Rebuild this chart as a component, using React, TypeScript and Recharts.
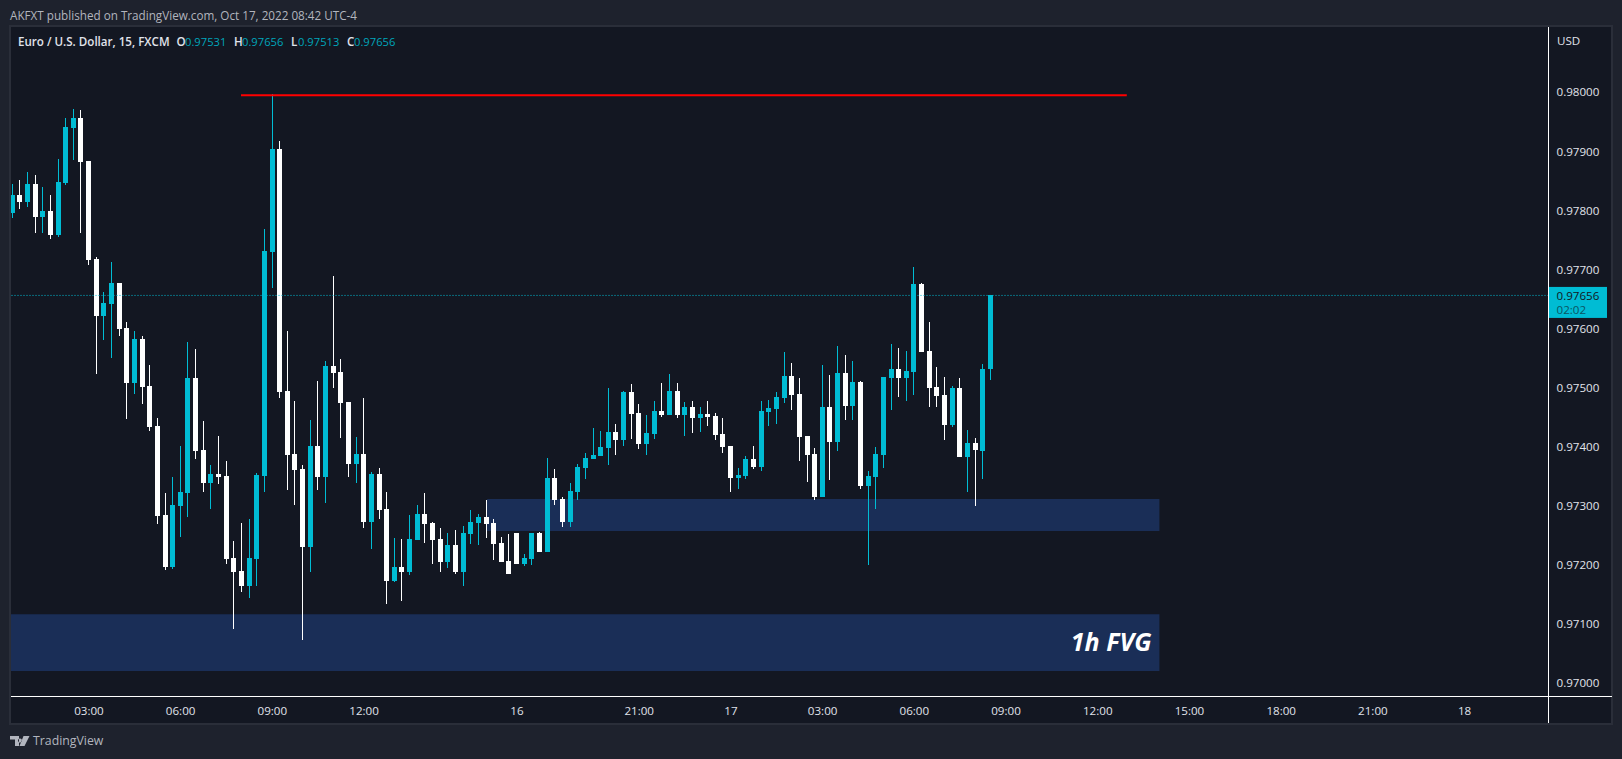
import React from 'react';
import { ComposedChart, Bar, XAxis, YAxis, ReferenceArea, ReferenceLine } from 'recharts';

const opens = [
  0.97796, 0.97826, 0.97814, 0.97845, 0.97789, 0.97799, 0.97758, 0.97846, 0.9794, 0.97957,
  0.97884, 0.97718, 0.97621, 0.97641, 0.97677, 0.97601, 0.97508, 0.97582, 0.97502, 0.97435,
  0.97284, 0.97196, 0.97299, 0.97321, 0.97516, 0.97394, 0.97338, 0.97353, 0.9735, 0.97211,
  0.97189, 0.97164, 0.9721, 0.9735, 0.9773, 0.97904, 0.97494, 0.97387, 0.97362, 0.9723,
  0.97401, 0.97348, 0.97536, 0.97526, 0.97475, 0.9737, 0.97387, 0.97272, 0.97353, 0.97294,
  0.97172, 0.97196, 0.97187, 0.97242, 0.97286, 0.9727, 0.97243, 0.97204, 0.97233, 0.97187,
  0.97252, 0.9727, 0.97281, 0.9727, 0.97237, 0.97206, 0.97254, 0.97201, 0.9721, 0.97254,
  0.97221, 0.97347, 0.97311, 0.97272, 0.97323, 0.97364, 0.97379, 0.97384, 0.97398, 0.97425,
  0.97411, 0.97492, 0.97457, 0.97404, 0.97421, 0.9746, 0.97453, 0.97494, 0.97453, 0.97467,
  0.97448, 0.97455, 0.97452, 0.97421, 0.97401, 0.97347, 0.9735, 0.97379, 0.97365, 0.97458,
  0.97464, 0.97482, 0.97519, 0.97489, 0.97418, 0.97387, 0.97315, 0.97467, 0.97408, 0.97525,
  0.97469, 0.97509, 0.97333, 0.97348, 0.97386, 0.97516, 0.97531, 0.97516, 0.97526, 0.97675,
  0.97562, 0.97501, 0.97487, 0.97436, 0.97499, 0.97382, 0.97406, 0.97392, 0.97531,
];
const highs = [
  0.97845, 0.97851, 0.97865, 0.9786, 0.9784, 0.97826, 0.97887, 0.97957, 0.97972, 0.9797,
  0.97884, 0.97721, 0.97662, 0.97713, 0.97677, 0.97611, 0.97596, 0.97587, 0.97538, 0.97448,
  0.97321, 0.97348, 0.97401, 0.97577, 0.97565, 0.97443, 0.97369, 0.97418, 0.97376, 0.9724,
  0.9727, 0.97277, 0.97355, 0.97769, 0.97997, 0.97918, 0.97596, 0.97477, 0.97369, 0.97445,
  0.97511, 0.97545, 0.97689, 0.97548, 0.97475, 0.97416, 0.97482, 0.97357, 0.97364, 0.97323,
  0.97245, 0.97243, 0.97284, 0.97301, 0.97321, 0.97272, 0.97262, 0.97254, 0.97259, 0.97265,
  0.97293, 0.97286, 0.97309, 0.97277, 0.97247, 0.97252, 0.97254, 0.97218, 0.97254, 0.97255,
  0.97381, 0.97362, 0.97315, 0.97338, 0.9737, 0.97389, 0.97431, 0.97426, 0.97499, 0.97438,
  0.97494, 0.97506, 0.97472, 0.97453, 0.97477, 0.97508, 0.97523, 0.97508, 0.97475, 0.97477,
  0.97467, 0.97477, 0.97457, 0.97448, 0.97401, 0.97364, 0.97384, 0.97401, 0.97477, 0.97479,
  0.97492, 0.9756, 0.97541, 0.97516, 0.97418, 0.97398, 0.97538, 0.97521, 0.9757, 0.97555,
  0.97545, 0.97511, 0.97359, 0.97399, 0.97518, 0.97574, 0.97567, 0.97562, 0.97704, 0.97677,
  0.97611, 0.97535, 0.97518, 0.97502, 0.97516, 0.97428, 0.97414, 0.9754, 0.97656,
];
const lows = [
  0.97787, 0.97802, 0.97806, 0.97762, 0.97762, 0.97752, 0.97755, 0.97843, 0.97885, 0.97762,
  0.97708, 0.97523, 0.9758, 0.9755, 0.97587, 0.97447, 0.97489, 0.97472, 0.97426, 0.97269,
  0.97191, 0.97193, 0.97247, 0.97281, 0.97379, 0.97323, 0.97294, 0.97337, 0.97201, 0.97091,
  0.97154, 0.97143, 0.97164, 0.97323, 0.97669, 0.97482, 0.97326, 0.97301, 0.97072, 0.97187,
  0.97326, 0.97304, 0.97499, 0.97414, 0.97348, 0.97338, 0.97262, 0.97226, 0.97277, 0.97133,
  0.97171, 0.97138, 0.97182, 0.97242, 0.97237, 0.97201, 0.97187, 0.97194, 0.97184, 0.97164,
  0.97235, 0.97233, 0.97245, 0.97208, 0.97204, 0.97184, 0.97201, 0.97198, 0.97199, 0.97221,
  0.97221, 0.97301, 0.97264, 0.97264, 0.97309, 0.97345, 0.97379, 0.97384, 0.97369, 0.97386,
  0.97401, 0.97413, 0.97396, 0.97386, 0.97413, 0.9745, 0.97453, 0.97448, 0.97418, 0.97423,
  0.97425, 0.97435, 0.97411, 0.97389, 0.97323, 0.97328, 0.97345, 0.97362, 0.97359, 0.97435,
  0.97438, 0.97474, 0.97462, 0.97376, 0.9734, 0.97309, 0.97315, 0.97343, 0.97392, 0.97445,
  0.97445, 0.97328, 0.97199, 0.97294, 0.97364, 0.97462, 0.97484, 0.97477, 0.97487, 0.9756,
  0.97467, 0.97467, 0.97411, 0.97433, 0.97382, 0.97323, 0.97299, 0.97345, 0.97513,
];
const closes = [
  0.97826, 0.97814, 0.97845, 0.97789, 0.97799, 0.97758, 0.97848, 0.97941, 0.97957, 0.97882,
  0.97716, 0.97621, 0.97643, 0.97677, 0.97599, 0.97508, 0.97582, 0.97501, 0.97433, 0.97282,
  0.97196, 0.97301, 0.97323, 0.97516, 0.97392, 0.97338, 0.97353, 0.97348, 0.9721, 0.97187,
  0.97164, 0.97211, 0.97352, 0.97731, 0.97904, 0.97492, 0.97386, 0.9736, 0.9723, 0.97401,
  0.97348, 0.97536, 0.97525, 0.97474, 0.9737, 0.97387, 0.97272, 0.97353, 0.97293, 0.97172,
  0.97196, 0.97187, 0.97243, 0.97286, 0.97269, 0.97242, 0.97204, 0.97233, 0.97187, 0.97254,
  0.97272, 0.97281, 0.97269, 0.97235, 0.97204, 0.97184, 0.97201, 0.97211, 0.97254, 0.97221,
  0.97347, 0.97309, 0.97272, 0.97325, 0.97365, 0.97381, 0.97386, 0.97399, 0.97425, 0.97411,
  0.97492, 0.97455, 0.97404, 0.97423, 0.9746, 0.97453, 0.97494, 0.97453, 0.97467, 0.97448,
  0.97455, 0.9745, 0.9742, 0.97399, 0.97347, 0.97352, 0.97379, 0.97365, 0.9746, 0.97465,
  0.97484, 0.97519, 0.97487, 0.97416, 0.97386, 0.97315, 0.97467, 0.97408, 0.97525, 0.97469,
  0.97509, 0.97333, 0.9735, 0.97387, 0.97518, 0.97531, 0.97516, 0.97528, 0.97675, 0.9756,
  0.97499, 0.97486, 0.97436, 0.97499, 0.97382, 0.97406, 0.97394, 0.97531, 0.97656,
];

const priceTicks = [0.98, 0.979, 0.978, 0.977, 0.976, 0.975, 0.974, 0.973, 0.972, 0.971, 0.97];
const timeTickBars = [10, 22, 34, 46, 66, 82, 94, 106, 118, 130, 142, 154, 166, 178, 190];
const timeTickLabels = ['03:00', '06:00', '09:00', '12:00', '16', '21:00', '17', '03:00', '06:00', '09:00', '12:00', '15:00', '18:00', '21:00', '18'];

const lastPrice = 0.97656;
const resistance = 0.97995;
const upperZone = [0.97257, 0.97311];
const lowerZone = [0.9702, 0.97116];

const TEAL = '#00bcd4';
const WHITE = '#ffffff';
const FONT = '"Open Sans", sans-serif';

const candles = opens.map((open, i) => ({
  i,
  open,
  high: highs[i],
  low: lows[i],
  close: closes[i],
  range: [lows[i], highs[i]],
}));

// wick + body, pixel-per-price worked out from the bar the scale gave us
const Candle = (props: any) => {
  const { x, y, width, height, payload } = props;
  const top = Math.min(y, y + height);
  const h = Math.abs(height);
  const ratio = h / (payload.high - payload.low);
  const color = payload.close >= payload.open ? TEAL : WHITE;
  const cx = x + width / 2;
  const bodyTop = top + (payload.high - Math.max(payload.open, payload.close)) * ratio;
  const bodyH = Math.abs(payload.open - payload.close) * ratio;
  return (
    <g shapeRendering="crispEdges">
      <rect x={Math.round(cx - 0.5)} y={top} width={1} height={h} fill={color} />
      <rect x={Math.round(cx - 2.5)} y={bodyTop} width={5} height={Math.max(bodyH, 1)} fill={color} />
    </g>
  );
};

const PriceTag = (props: any) => {
  const { viewBox } = props;
  const left = viewBox.x + viewBox.width;
  const y = viewBox.y;
  return (
    <g>
      <rect x={left} y={y - 8.5} width={58.5} height={31} fill={TEAL} />
      <text x={left + 8} y={y + 4.5} fill="#131722" fontFamily={FONT} fontSize={11.6}>0.97656</text>
      <text x={left + 8} y={y + 18.5} fill="#0b5563" fontFamily={FONT} fontSize={11.6}>02:02</text>
    </g>
  );
};

const Label = ({ x, y, color, size, weight, children }: any) => (
  <div style={{ position: 'absolute', left: x, top: y, color, fontSize: size, fontWeight: weight ?? 400, fontFamily: FONT, lineHeight: '18px', whiteSpace: 'nowrap' }}>
    {children}
  </div>
);

export default function App() {
  return (
    <div style={{ position: 'absolute', left: 0, top: 0, width: 1622, height: 759, background: '#1e222d', overflow: 'hidden' }}>
      <Label x={10} y={6} color="#b2b5be" size={11.7}>AKFXT published on TradingView.com, Oct 17, 2022 08:42 UTC-4</Label>
      <div style={{ position: 'absolute', left: 9, top: 25, width: 1600, height: 696, background: '#131722', border: '2px solid #2a2e39' }} />
      <div style={{ position: 'absolute', left: 1548, top: 696, width: 1, height: 27, background: '#fff' }} />
      <div style={{ position: 'absolute', left: 1548, top: 696, width: 64, height: 1, background: '#fff' }} />

      <div style={{ position: 'absolute', left: 0, top: 0 }}>
        <ComposedChart
          width={1622}
          height={759}
          data={candles}
          margin={{ top: 27, right: 9.5, bottom: 36, left: 11 }}
        >
          <XAxis
            type="number"
            dataKey="i"
            domain={[-0.196, 200.98]}
            allowDataOverflow
            ticks={timeTickBars}
            interval={0}
            height={26.5}
            tickFormatter={(v: number) => timeTickLabels[timeTickBars.indexOf(v)]}
            tick={{ fill: '#e0e3eb', fontSize: 11.6, fontFamily: FONT }}
            tickLine={false}
            tickMargin={4}
            axisLine={{ stroke: '#ffffff', strokeWidth: 1 }}
          />
          <YAxis
            orientation="right"
            type="number"
            domain={[0.969766, 0.981107]}
            allowDataOverflow
            ticks={priceTicks}
            interval={0}
            width={64}
            tickFormatter={(v: number) => v.toFixed(5)}
            tick={{ fill: '#e0e3eb', fontSize: 11.6, fontFamily: FONT }}
            tickLine={false}
            tickMargin={2}
            axisLine={{ stroke: '#ffffff', strokeWidth: 1 }}
          />
          <ReferenceArea x1={-0.196} x2={150.07} y1={lowerZone[0]} y2={lowerZone[1]} fill="#1a2e57" fillOpacity={1} stroke="none" ifOverflow="hidden" />
          <ReferenceArea x1={62.1} x2={150.07} y1={upperZone[0]} y2={upperZone[1]} fill="#1a2e57" fillOpacity={1} stroke="none" />
          <ReferenceLine y={lastPrice} stroke={TEAL} strokeWidth={1} strokeDasharray="1 2" label={<PriceTag />} />
          <ReferenceLine
            segment={[{ x: 29.9, y: resistance }, { x: 145.8, y: resistance }]}
            stroke="#ff0000"
            strokeWidth={2}
          />
          <Bar dataKey="range" barSize={5} shape={<Candle />} isAnimationActive={false} />
          <ReferenceLine
            segment={[{ x: 150.07, y: 0.97068 }, { x: 150.07, y: 0.97068 }]}
            stroke="none"
            label={{ value: '1h FVG', position: 'left', offset: 8, fill: '#ffffff', fontSize: 25, fontWeight: 700, fontStyle: 'italic', fontFamily: FONT }}
          />
        </ComposedChart>
      </div>

      <Label x={18} y={33} color="#e0e3eb" size={11.6} weight={600}>
        Euro / U.S. Dollar, 15, FXCM
      </Label>
      <Label x={176.5} y={33} color="#e0e3eb" size={11.6} weight={600}>O</Label>
      <Label x={185} y={33} color="#00a5bb" size={11.2}>0.97531</Label>
      <Label x={234} y={33} color="#e0e3eb" size={11.6} weight={600}>H</Label>
      <Label x={242} y={33} color="#00a5bb" size={11.2}>0.97656</Label>
      <Label x={291} y={33} color="#e0e3eb" size={11.6} weight={600}>L</Label>
      <Label x={298} y={33} color="#00a5bb" size={11.2}>0.97513</Label>
      <Label x={347} y={33} color="#e0e3eb" size={11.6} weight={600}>C</Label>
      <Label x={354} y={33} color="#00a5bb" size={11.2}>0.97656</Label>
      <Label x={1557} y={32} color="#e0e3eb" size={11.6}>USD</Label>

      <svg style={{ position: 'absolute', left: 10, top: 736 }} width={20} height={11}>
        <path d="M0 0H9V10H5V3.5H0Z M10 2.5a2 2 0 1 0 .01 0Z M13.5 0H19.5L14.5 10H9.5Z" fill="#b2b5be" />
      </svg>
      <Label x={33} y={732} color="#b2b5be" size={12.3}>TradingView</Label>
    </div>
  );
}
